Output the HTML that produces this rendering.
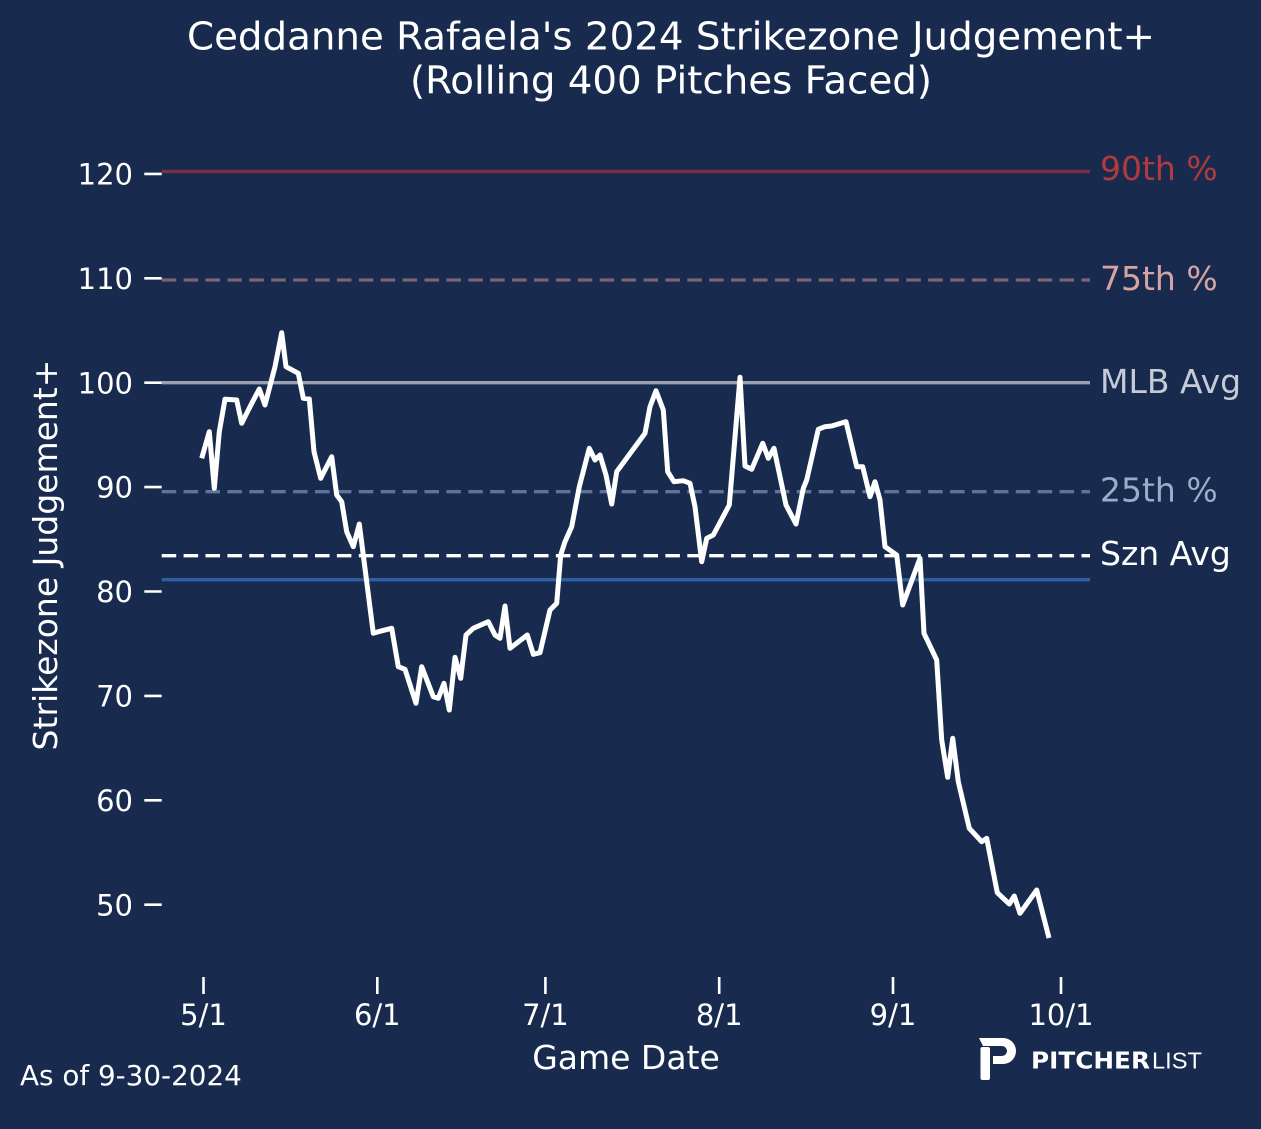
<!DOCTYPE html>
<html>
<head>
<meta charset="utf-8">
<style>
html,body{margin:0;padding:0;background:#182b4f;}
svg{display:block;}
text{font-family:"DejaVu Sans","Liberation Sans",sans-serif;}
</style>
</head>
<body>
<svg width="1261" height="1129" viewBox="0 0 1261 1129" xmlns="http://www.w3.org/2000/svg">
<rect x="0" y="0" width="1261" height="1129" fill="#182b4f"/>

<!-- Title -->
<text x="671" y="49.5" font-size="38.7" fill="#ffffff" text-anchor="middle" textLength="968" lengthAdjust="spacingAndGlyphs">Ceddanne Rafaela's 2024 Strikezone Judgement+</text>
<text x="671" y="93.5" font-size="38.7" fill="#ffffff" text-anchor="middle" textLength="522" lengthAdjust="spacingAndGlyphs">(Rolling 400 Pitches Faced)</text>

<!-- Reference lines -->
<line x1="161.7" y1="171.5" x2="1090" y2="171.5" stroke="#7a2e40" stroke-width="3.3"/>
<line x1="161.7" y1="280" x2="1090" y2="280" stroke="#7d6474" stroke-width="3.3" stroke-dasharray="14.5 7.4"/>
<line x1="161.7" y1="382.7" x2="1090" y2="382.7" stroke="#9aa1b0" stroke-width="3.3"/>
<line x1="161.7" y1="491.7" x2="1090" y2="491.7" stroke="#5e7499" stroke-width="3.3" stroke-dasharray="14.5 7.4"/>
<line x1="161.7" y1="555.7" x2="1090" y2="555.7" stroke="#ffffff" stroke-width="3.3" stroke-dasharray="14.5 7.4"/>
<line x1="161.7" y1="579.7" x2="1090" y2="579.7" stroke="#2e5ea3" stroke-width="3.3"/>

<!-- Right labels -->
<text x="1100" y="180" font-size="33" fill="#b23a3e">90th %</text>
<text x="1100" y="290" font-size="33" fill="#d9a3a3">75th %</text>
<text x="1100" y="393" font-size="33" fill="#c5cad5">MLB Avg</text>
<text x="1100" y="501.7" font-size="33" fill="#9dadc9">25th %</text>
<text x="1100" y="565" font-size="33" fill="#ffffff">Szn Avg</text>

<!-- Y ticks -->
<g stroke="#ffffff" stroke-width="2.6">
<line x1="144.3" y1="173.9" x2="161.7" y2="173.9"/>
<line x1="144.3" y1="278.3" x2="161.7" y2="278.3"/>
<line x1="144.3" y1="382.7" x2="161.7" y2="382.7"/>
<line x1="144.3" y1="487.1" x2="161.7" y2="487.1"/>
<line x1="144.3" y1="591.5" x2="161.7" y2="591.5"/>
<line x1="144.3" y1="695.9" x2="161.7" y2="695.9"/>
<line x1="144.3" y1="800.3" x2="161.7" y2="800.3"/>
<line x1="144.3" y1="904.7" x2="161.7" y2="904.7"/>
</g>
<g font-size="29" fill="#ffffff" text-anchor="end">
<text x="133" y="184.5">120</text>
<text x="133" y="288.9">110</text>
<text x="133" y="393.3">100</text>
<text x="133" y="497.7">90</text>
<text x="133" y="602.1">80</text>
<text x="133" y="706.5">70</text>
<text x="133" y="810.9">60</text>
<text x="133" y="915.3">50</text>
</g>

<!-- X ticks -->
<g stroke="#ffffff" stroke-width="2.6">
<line x1="203.5" y1="977" x2="203.5" y2="994"/>
<line x1="377.3" y1="977" x2="377.3" y2="994"/>
<line x1="545.4" y1="977" x2="545.4" y2="994"/>
<line x1="719.2" y1="977" x2="719.2" y2="994"/>
<line x1="893" y1="977" x2="893" y2="994"/>
<line x1="1061" y1="977" x2="1061" y2="994"/>
</g>
<g font-size="29" fill="#ffffff" text-anchor="middle">
<text x="203.5" y="1025">5/1</text>
<text x="377.3" y="1025">6/1</text>
<text x="545.4" y="1025">7/1</text>
<text x="719.2" y="1025">8/1</text>
<text x="893" y="1025">9/1</text>
<text x="1061" y="1025">10/1</text>
</g>

<!-- Axis labels -->
<text x="626" y="1069" font-size="33" fill="#ffffff" text-anchor="middle">Game Date</text>
<text transform="translate(57,555) rotate(-90)" font-size="33" fill="#ffffff" text-anchor="middle">Strikezone Judgement+</text>

<!-- Data line -->
<polyline fill="none" stroke="#ffffff" stroke-width="5" stroke-linejoin="round" stroke-linecap="butt" points="
201.7,458.3 209.3,431.7 214.3,488.3 219.3,431.7 225,399.3 236.7,400 241.7,423.3 250,406.7 259.3,389 265,405
275,366.7 281.7,332.7 286,366.7 298.3,373.3 303.3,398.3 309.3,399 314,451.7 320.7,478.3 331.7,456.7 336.7,495
341.7,501.7 346.7,531.7 353.3,546.7 359.3,524 373.3,633.3 378.3,631.7 391.7,628.3 398.3,666.7 405,669.3 416,703.3
421.7,666.7 433.3,696.7 438.3,698.3 444,683.3 449.3,710 455,657.3 460.7,678.3 466,635 473.3,628.3 488.3,621.7
495,635 500,638.3 505,606 510,648.3 527.3,635 533.3,654.3 540,652.7 550,610 556.7,603.3 560.7,555
565,541.7 571.7,526.7 579.3,486.7 589.3,448.3 595,460 600,455 606,475 611.7,504 616.7,471.7 645,433.3
650,406.7 656,390.7 663.3,410 667.7,471.7 674,481.7 683.3,480.7 690,483.3 695,506.7 701.7,561.7 706.7,538.3
713.3,535 729.3,505 740,377.3 745,466 751.7,469.3 762.7,443.3 768.3,458.3 774,448.3 786,505 796,524
803.3,488.3 806.7,480 818.3,429.3 825,426.7 831.7,426 846,421.7 856.7,466.7 862.7,466.7 870,496.7 875,481.7
880,500 885,546.7 896.7,555 902.7,605 920,558.3 924,633.3 936.7,660 941.7,740 947.7,777.3 952.7,738.3
958.3,781.7 969.3,828.3 981.7,841.7 986.7,838.3 997.3,892.7 1009.3,904 1014.3,896 1020,913.3 1036.7,890 1049,938"/>

<!-- Footer -->
<text x="20" y="1085" font-size="27.8" fill="#ffffff">As of 9-30-2024</text>

<!-- PitcherList logo -->
<g fill="#ffffff">
<path d="M979,1038 L1003,1038 A13,13 0 0 1 1003,1064 L993,1064 L993,1056 L1002,1056 A5,5 0 0 0 1002,1046 L983,1046 Z"/>
<rect x="980.5" y="1047" width="9.5" height="33" rx="2"/>
</g>
<text x="1031" y="1068.5" font-size="23" font-weight="bold" fill="#ffffff" textLength="119" lengthAdjust="spacingAndGlyphs">PITCHER</text>
<text x="1152" y="1068.5" font-size="23" fill="#ffffff" textLength="50" lengthAdjust="spacingAndGlyphs" style="font-family:'Liberation Sans',sans-serif;font-weight:300">LIST</text>
</svg>
</body>
</html>
